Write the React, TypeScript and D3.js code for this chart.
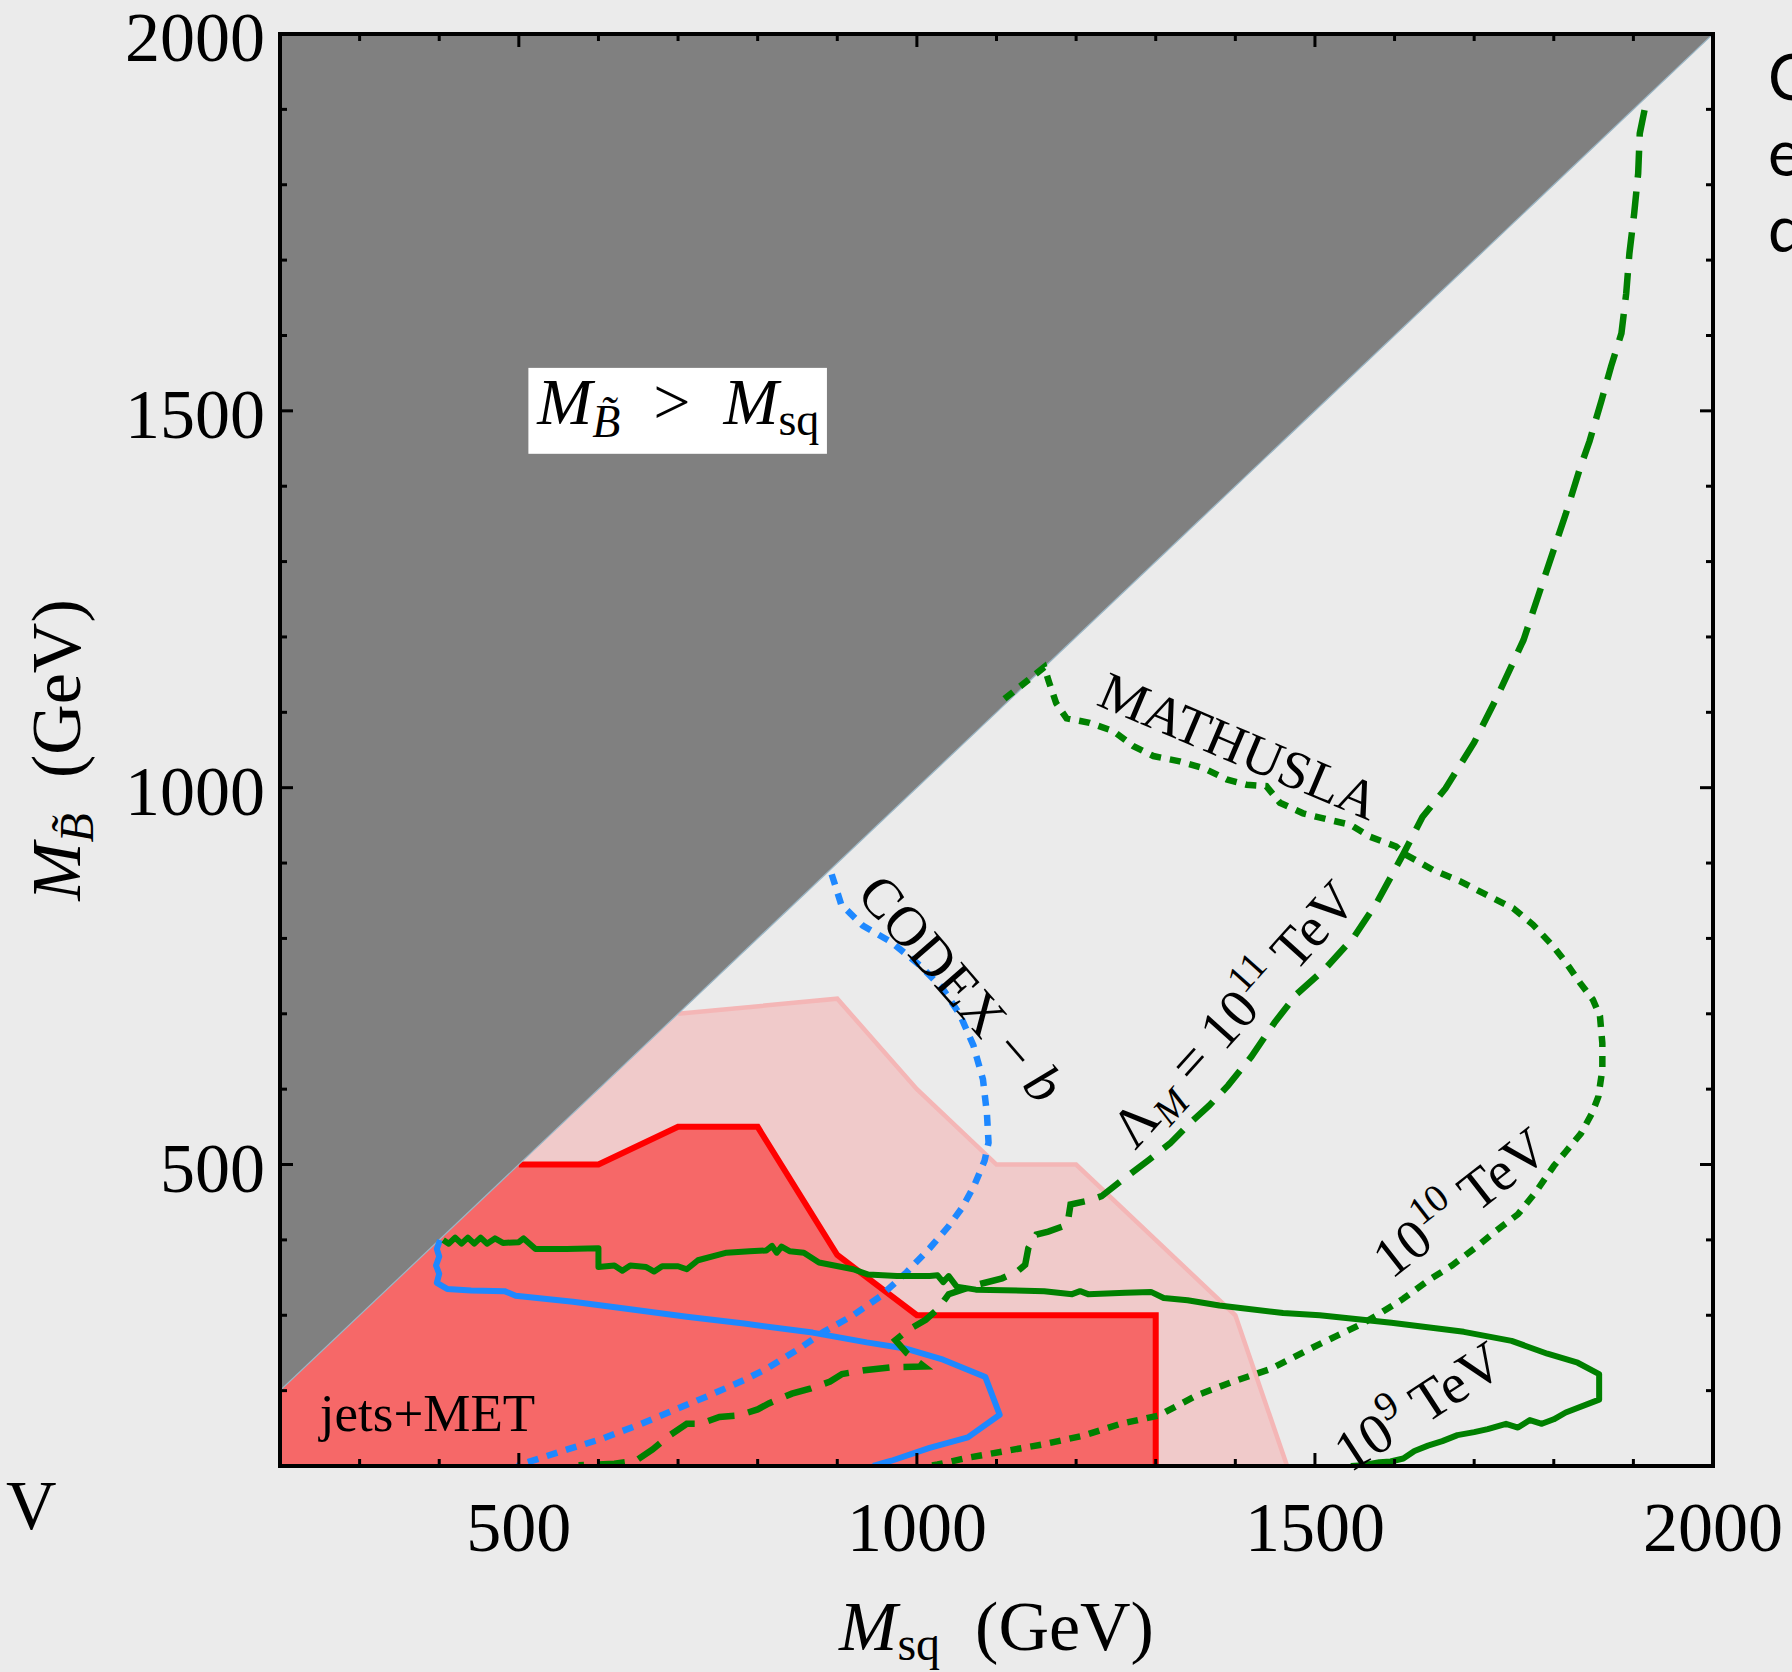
import * as d3 from 'd3'

// plot frame (px)
const W = 1792
const H = 1672
const PL = 280
const PR = 1713
const PT = 34
const PB = 1466

// axis ticks (GeV)
const xMajorTicks = [500, 1000, 1500, 2000]
const yMajorTicks = [500, 1000, 1500, 2000]
const xMinorTicks = [300, 400, 600, 700, 800, 900, 1100, 1200, 1300, 1400, 1600, 1700, 1800, 1900]
const yMinorTicks = [200, 300, 400, 600, 700, 800, 900, 1100, 1200, 1300, 1400, 1600, 1700, 1800, 1900]

// excluded region M_B > M_sq
const grayRegion = [[200, 200], [2000, 2000], [200, 2000]]

// jets+MET projected reach (light) and current bound (dark)
const pinkEdge = [[700, 700], [900, 720], [1000, 600], [1100, 500], [1200, 500], [1400, 300], [1465, 100]]
const redEdge = [[500, 500], [600, 500], [700, 550], [800, 550], [900, 380], [1000, 300], [1300, 300], [1300, 100]]
const regionCorner = [[200, 100], [200, 200]]

// CODEX-b contours
const codexSolid = [
  [401, 400], [397, 388], [400, 378], [396, 366], [400, 355], [397, 343], [410, 335], [440, 333], [482, 332],
  [496, 326], [568, 318], [640, 308], [711, 298], [783, 289], [869, 277], [937, 264], [985, 256], [1033, 241],
  [1086, 218], [1104, 168], [1064, 138], [1016, 124], [968, 107], [945, 100],
]
const codexDotted = [
  [893, 885], [905, 845], [932, 817], [968, 795], [1004, 764], [1032, 734], [1054, 699], [1071, 658], [1083, 613],
  [1088, 567], [1090, 529], [1085, 505], [1072, 472], [1057, 443], [1039, 417], [1016, 389], [987, 357], [954, 325],
  [920, 300], [883, 278], [854, 257], [811, 229], [783, 214], [740, 194], [697, 175], [654, 156], [604, 136],
  [561, 122], [511, 105], [498, 100],
]

// MATHUSLA contours
const lambda9 = [
  [405, 400], [412, 395], [420, 403], [428, 395], [436, 403], [444, 395], [452, 403], [460, 395], [470, 402],
  [480, 396], [500, 397], [506, 402], [521, 388], [560, 388], [600, 389], [600, 364], [620, 366], [630, 359],
  [640, 366], [660, 364], [670, 358], [680, 365], [700, 365], [711, 361], [725, 373], [761, 383], [790, 385],
  [811, 386], [818, 392], [824, 383], [830, 391], [840, 385], [858, 383], [877, 370], [920, 361], [939, 354],
  [975, 352], [1016, 352], [1026, 353], [1033, 344], [1040, 352], [1050, 338], [1074, 334], [1160, 332],
  [1195, 328], [1205, 332], [1215, 328], [1262, 330], [1294, 331], [1310, 323], [1340, 320], [1380, 313],
  [1460, 303], [1506, 300], [1596, 290], [1687, 278], [1747, 266], [1792, 249], [1830, 237], [1857, 222],
  [1857, 188], [1815, 171], [1800, 162], [1785, 156], [1770, 161], [1755, 151], [1740, 156], [1717, 149],
  [1700, 145], [1679, 141], [1660, 133], [1642, 127], [1625, 120], [1611, 110], [1595, 106], [1581, 105],
  [1560, 101], [1545, 100],
]
const lambda10 = [
  [1110, 1118], [1140, 1143], [1160, 1160], [1166, 1140], [1175, 1112], [1188, 1092], [1217, 1086], [1247, 1075],
  [1272, 1055], [1297, 1042], [1330, 1035], [1360, 1026], [1389, 1011], [1414, 1004], [1439, 1002], [1456, 980],
  [1485, 966], [1515, 958], [1544, 951], [1569, 935], [1602, 922], [1611, 913], [1648, 891], [1682, 876],
  [1715, 858], [1749, 840], [1774, 818], [1799, 790], [1816, 767], [1833, 741], [1849, 719], [1858, 697],
  [1861, 661], [1861, 626], [1856, 590], [1848, 568], [1834, 541], [1815, 517], [1800, 498], [1777, 463],
  [1755, 434], [1725, 410], [1702, 390], [1672, 366], [1642, 346], [1611, 322], [1581, 302], [1558, 288],
  [1528, 273], [1491, 254], [1445, 229], [1400, 213], [1352, 194], [1304, 167], [1256, 156], [1208, 140],
  [1160, 129], [1112, 120], [1064, 111], [1026, 102], [1015, 100],
]
const lambda11 = [
  [1914, 1899], [1908, 1868], [1906, 1815], [1901, 1762], [1895, 1709], [1891, 1656], [1885, 1603], [1872, 1559],
  [1860, 1514], [1845, 1460], [1833, 1424], [1815, 1363], [1786, 1272], [1762, 1196], [1729, 1121], [1700, 1060],
  [1664, 999], [1635, 961], [1611, 912], [1578, 848], [1549, 802], [1513, 760], [1477, 726], [1449, 688],
  [1420, 643], [1391, 605], [1367, 578], [1343, 555], [1318, 528], [1290, 505], [1256, 478], [1232, 458],
  [1215, 452], [1193, 447], [1189, 420], [1165, 411], [1150, 407], [1140, 389], [1136, 367], [1126, 358],
  [1107, 349], [1074, 340], [1040, 328], [1026, 308], [1011, 294], [987, 279], [973, 267], [987, 250],
  [1009, 232], [968, 231], [934, 227], [906, 222], [891, 212], [867, 203], [843, 196], [814, 183], [800, 175],
  [776, 167], [752, 165], [728, 156], [711, 156], [690, 141], [668, 122], [647, 107], [620, 103], [575, 101],
]

const GREEN = '#008000'
const BLUE = '#1e88ff'
const SERIF = '"Liberation Serif", "DejaVu Serif", serif'

export default function App() {
  const x = d3.scaleLinear().domain([200, 2000]).range([PL, PR])
  const y = d3.scaleLinear().domain([100, 2000]).range([PB, PT])
  const line = d3.line<number[]>().x((d) => x(d[0])).y((d) => y(d[1]))
  const poly = (pts: number[][]) => line(pts) + 'Z'

  const at = (gx: number, gy: number, rot: number) => `translate(${x(gx)},${y(gy)}) rotate(${rot})`

  return (
    <svg width={W} height={H} style={{ position: 'absolute', left: 0, top: 0, background: '#ebebeb' }}
      fontFamily={SERIF}>
      <defs>
        <clipPath id="plot">
          <rect x={PL} y={PT} width={PR - PL} height={PB - PT} />
        </clipPath>
      </defs>
      <rect width={W} height={H} fill="#ebebeb" />

      <g clipPath="url(#plot)">
        <path d={poly([...regionCorner, ...pinkEdge])} fill="#f0caca" />
        <path d={line(pinkEdge)!} fill="none" stroke="#f4b6b6" strokeWidth={4.5} />
        <path d={poly([...regionCorner, ...redEdge])} fill="#f66868" />
        <path d={line(redEdge)!} fill="none" stroke="#ff0000" strokeWidth={6} />
        <path d={poly(grayRegion)} fill="#808080" />
        <path d={line(grayRegion.slice(0, 2))!} fill="none" stroke="#9ab6c6" strokeWidth={1.2} />

        <path d={line(codexSolid)!} fill="none" stroke={BLUE} strokeWidth={6} strokeLinejoin="round" />
        <path d={line(codexDotted)!} fill="none" stroke={BLUE} strokeWidth={6.5} strokeDasharray="11 9" />
        <path d={line(lambda9)!} fill="none" stroke={GREEN} strokeWidth={6} strokeLinejoin="round" />
        <path d={line(lambda10)!} fill="none" stroke={GREEN} strokeWidth={6.5} strokeDasharray="11 9" />
        <path d={line(lambda11)!} fill="none" stroke={GREEN} strokeWidth={6.5} strokeDasharray="27 14" />
      </g>

      {/* labels inside plot */}
      <text x={x(250)} y={y(146)} fontSize={53}>jets+MET</text>

      <rect x={x(512)} y={y(1557)} width={x(887) - x(512)} height={y(1443) - y(1557)} fill="#ffffff" />
      <text x={x(523)} y={y(1483)} fontSize={66}>
        <tspan fontStyle="italic">M</tspan>
        <tspan fontStyle="italic" fontSize={46} dy={13}>{'B\u0303'}</tspan>
        <tspan dy={-13}>{'\u2002>\u2002'}</tspan>
        <tspan fontStyle="italic">M</tspan>
        <tspan fontSize={46} dy={11}>sq</tspan>
      </text>

      <text transform={at(1396, 1033, 23)} textAnchor="middle" fontSize={54} textLength={298}
        lengthAdjust="spacingAndGlyphs">MATHUSLA</text>

      <text transform={at(1038, 717, 49)} textAnchor="middle" fontSize={56}>
        CODEX − <tspan fontStyle="italic">b</tspan>
      </text>

      <text transform={at(1415, 683, -48)} textAnchor="middle" fontSize={56}>
        Λ<tspan fontStyle="italic" fontSize={39} dy={10}>M</tspan>
        <tspan dy={-10}>{' = 10'}</tspan>
        <tspan fontSize={39} dy={-24}>11</tspan>
        <tspan dy={24}>{' TeV'}</tspan>
      </text>

      <text transform={at(1697, 430, -38)} textAnchor="middle" fontSize={56}>
        10<tspan fontSize={39} dy={-24}>10</tspan>
        <tspan dy={24}>{' TeV'}</tspan>
      </text>

      <text transform={at(1643, 158, -33)} textAnchor="middle" fontSize={57}>
        10<tspan fontSize={40} dy={-24}>9</tspan>
        <tspan dy={24}>{' TeV'}</tspan>
      </text>

      {/* frame */}
      <rect x={PL} y={PT} width={PR - PL} height={PB - PT} fill="none" stroke="#000" strokeWidth={4} />

      {/* ticks */}
      <g stroke="#000" strokeWidth={3}>
        {xMinorTicks.map((t) => (
          <g key={'xm' + t}>
            <line x1={x(t)} x2={x(t)} y1={PB} y2={PB - 7} />
            <line x1={x(t)} x2={x(t)} y1={PT} y2={PT + 7} />
          </g>
        ))}
        {xMajorTicks.map((t) => (
          <g key={'xM' + t}>
            <line x1={x(t)} x2={x(t)} y1={PB} y2={PB - 13} />
            <line x1={x(t)} x2={x(t)} y1={PT} y2={PT + 13} />
          </g>
        ))}
        {yMinorTicks.map((t) => (
          <g key={'ym' + t}>
            <line x1={PL} x2={PL + 7} y1={y(t)} y2={y(t)} />
            <line x1={PR} x2={PR - 7} y1={y(t)} y2={y(t)} />
          </g>
        ))}
        {yMajorTicks.map((t) => (
          <g key={'yM' + t}>
            <line x1={PL} x2={PL + 13} y1={y(t)} y2={y(t)} />
            <line x1={PR} x2={PR - 13} y1={y(t)} y2={y(t)} />
          </g>
        ))}
      </g>

      {/* tick labels */}
      {xMajorTicks.map((t) => (
        <text key={'xl' + t} x={x(t)} y={PB + 85} textAnchor="middle" fontSize={70}>{t}</text>
      ))}
      {yMajorTicks.map((t) => (
        <text key={'yl' + t} x={PL - 15} y={y(t) + 27} textAnchor="end" fontSize={70}>{t}</text>
      ))}

      {/* axis titles */}
      <text x={(PL + PR) / 2} y={PB + 184} textAnchor="middle" fontSize={70}>
        <tspan fontStyle="italic">M</tspan>
        <tspan fontSize={48} dy={10}>sq</tspan>
        <tspan dy={-10}>{'\u2002(GeV)'}</tspan>
      </text>
      <text transform={`translate(80,${(PT + PB) / 2}) rotate(-90)`} textAnchor="middle" fontSize={70}>
        <tspan fontStyle="italic">M</tspan>
        <tspan fontStyle="italic" fontSize={48} dy={13}>{'B\u0303'}</tspan>
        <tspan dy={-13}>{'\u2002(GeV)'}</tspan>
      </text>

      {/* fragments of neighbouring content */}
      <text x={6} y={1529} fontSize={70}>V</text>
      <g fontFamily='"Lato", "Open Sans", sans-serif' fontSize={63}>
        <text x={1768} y={100}>C</text>
        <text x={1768} y={176}>e</text>
        <text x={1768} y={252}>d</text>
      </g>
    </svg>
  )
}
